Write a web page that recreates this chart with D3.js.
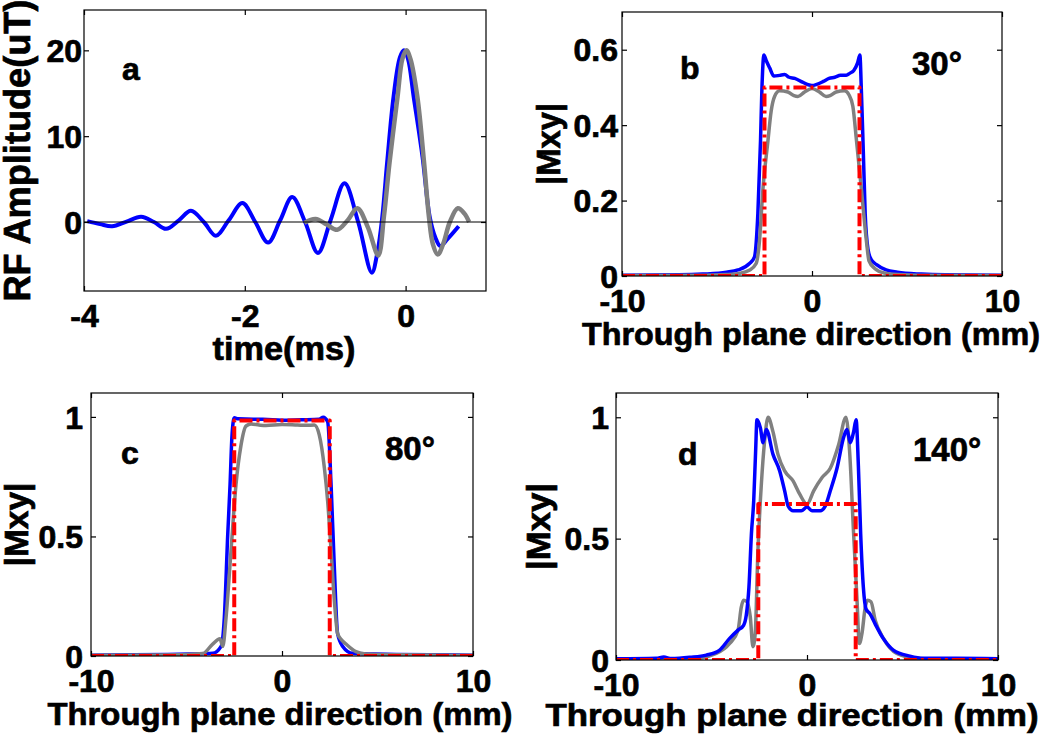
<!DOCTYPE html>
<html><head><meta charset="utf-8">
<script src="https://cdn.jsdelivr.net/npm/d3@7"></script>
<style>
body{margin:0;background:#fff}
svg{display:block;background:#fff}
text{font-family:"Liberation Sans",Arial,sans-serif;font-weight:bold;fill:#000;stroke:#000;stroke-width:0.7px}
</style>
</head><body>
<svg id="chart" width="1050" height="736"></svg>
<script>
// ---------- data ----------
// panel a: RF pulse, time (ms) vs amplitude (uT)
const rfBlue = [[-3.96,0.1],[-3.8,-0.25],[-3.65,-0.5],[-3.47,0.05],[-3.29,0.6],[-3.13,0],[-2.98,-0.8],[-2.82,0.2],[-2.67,1.3],[-2.51,0],[-2.36,-1.6],[-2.2,0.2],[-2.03,2.2],[-1.87,0],[-1.71,-2.4],[-1.56,0.2],[-1.41,2.9],[-1.25,0],[-1.09,-3.6],[-0.93,0.3],[-0.76,4.5],[-0.59,0],[-0.42,-5.9],[-0.35,-3.5],[-0.29,0.6],[-0.23,6.9],[-0.15,14.6],[-0.07,19.2],[-0.02,20],[0.03,19],[0.1,14.6],[0.21,7.6],[0.3,0.6],[0.37,-1.8],[0.43,-2.8],[0.52,-2.0],[0.66,-0.5]];
const rfGray = [[-1.26,-0.1],[-1.12,0.35],[-0.98,-0.3],[-0.85,-0.9],[-0.72,0.2],[-0.6,1.6],[-0.47,-0.6],[-0.34,-3.9],[-0.27,0.6],[-0.2,6.9],[-0.1,14.6],[-0.04,19],[0.01,20],[0.06,19],[0.146,14.6],[0.23,6.9],[0.29,0.6],[0.34,-2.6],[0.40,-3.8],[0.47,-2.5],[0.55,0],[0.65,1.6],[0.73,1.0],[0.79,0]];

// panel b: 30 deg profiles, position (mm) vs |Mxy|
const b30Blue = [[-10,0.002],[-7,0.003],[-5.75,0.005],[-4.5,0.01],[-3.9,0.016],[-3.29,0.033],[-3.03,0.05],[-2.85,0.165],[-2.71,0.358],[-2.64,0.49],[-2.53,0.586],[-2.4,0.57],[-2.23,0.552],[-2.0,0.53],[-1.7,0.532],[-1.44,0.534],[-1.2,0.527],[-0.91,0.524],[-0.5,0.514],[-0.2,0.507],[0,0.505],[0.25,0.508],[0.6,0.516],[0.9,0.524],[1.2,0.527],[1.5,0.532],[1.8,0.532],[2.0,0.538],[2.2,0.545],[2.4,0.565],[2.52,0.586],[2.6,0.49],[2.7,0.33],[2.8,0.165],[2.95,0.07],[3.1,0.045],[3.4,0.03],[3.9,0.016],[4.5,0.01],[5.75,0.005],[7,0.003],[10,0.002]];
const b30Gray = [[-10,0.001],[-6,0.002],[-4.5,0.004],[-3.8,0.007],[-3.3,0.015],[-2.94,0.033],[-2.76,0.095],[-2.59,0.226],[-2.32,0.358],[-2.15,0.437],[-1.97,0.476],[-1.71,0.491],[-1.27,0.488],[-0.95,0.478],[-0.74,0.476],[-0.39,0.488],[0,0.497],[0.39,0.488],[0.74,0.476],[0.95,0.478],[1.27,0.488],[1.71,0.491],[1.95,0.48],[2.15,0.45],[2.34,0.36],[2.6,0.23],[2.87,0.09],[3.0,0.04],[3.3,0.02],[3.8,0.008],[4.5,0.004],[6,0.002],[10,0.001]];
const b30Ideal = [[-10,0],[-2.5,0],[-2.5,0.5],[2.5,0.5],[2.5,0],[10,0]];

// panel c: 80 deg
const c80Blue = [[-10,0.003],[-8,0.005],[-6,0.006],[-4.85,0.008],[-3.63,0.011],[-3.19,0.04],[-3.02,0.16],[-2.84,0.51],[-2.72,0.716],[-2.62,0.92],[-2.5,0.996],[-2.3,0.992],[-1.5,0.99],[-1.0,0.99],[0,0.986],[1.0,0.988],[1.95,0.99],[2.16,0.999],[2.39,0.98],[2.57,0.716],[2.74,0.37],[2.91,0.094],[3.18,0.04],[3.7,0.011],[4.85,0.008],[6,0.006],[8,0.005],[10,0.003]];
const c80Gray = [[-10,0.003],[-7,0.004],[-5,0.006],[-4.15,0.01],[-3.63,0.05],[-3.25,0.072],[-3.1,0.04],[-2.93,0.16],[-2.67,0.44],[-2.41,0.716],[-2.15,0.88],[-1.88,0.962],[-1.62,0.97],[-1.2,0.966],[-0.84,0.964],[0,0.968],[0.82,0.966],[1.3,0.965],[1.69,0.966],[1.95,0.925],[2.22,0.786],[2.39,0.648],[2.57,0.44],[2.74,0.232],[2.91,0.094],[3.09,0.07],[3.35,0.05],[3.87,0.018],[4.4,0.008],[6,0.005],[8,0.004],[10,0.003]];
const c80Ideal = [[-10,0],[-2.5,0],[-2.5,0.985],[2.5,0.985],[2.5,0],[10,0]];

// panel d: 140 deg
const d140Blue = [[-10,0.005],[-7.89,0.007],[-7.5,0.012],[-7.1,0.006],[-6.14,0.011],[-5.27,0.02],[-4.57,0.041],[-4.05,0.089],[-3.61,0.123],[-3.32,0.143],[-3.18,0.184],[-3.04,0.3],[-2.91,0.52],[-2.79,0.656],[-2.69,0.86],[-2.62,0.99],[-2.44,0.956],[-2.3,0.895],[-2.13,0.95],[-1.78,0.847],[-1.43,0.779],[-1.17,0.697],[-0.99,0.635],[-0.73,0.615],[-0.3,0.615],[0,0.63],[0.26,0.615],[0.7,0.615],[0.96,0.635],[1.22,0.697],[1.57,0.79],[1.92,0.918],[2.09,0.95],[2.27,0.895],[2.44,0.94],[2.57,0.99],[2.69,0.8],[2.81,0.52],[2.95,0.3],[3.09,0.21],[3.3,0.19],[3.56,0.15],[3.99,0.089],[4.52,0.041],[5.39,0.016],[6.09,0.007],[7.8,0.007],[10,0.005]];
const d140Gray = [[-10,0.002],[-6.14,0.003],[-4.75,0.027],[-4.05,0.068],[-3.61,0.123],[-3.44,0.218],[-3.32,0.246],[-3.14,0.24],[-2.97,0.178],[-2.83,0.055],[-2.71,0.11],[-2.57,0.45],[-2.39,0.724],[-2.22,0.902],[-2.04,1.0],[-1.78,0.94],[-1.52,0.847],[-1.17,0.779],[-0.73,0.738],[-0.38,0.683],[0,0.642],[0.35,0.697],[0.79,0.752],[1.22,0.79],[1.66,0.888],[2.04,1.0],[2.23,0.86],[2.44,0.52],[2.62,0.246],[2.74,0.068],[2.88,0.11],[3.05,0.218],[3.17,0.246],[3.35,0.24],[3.57,0.164],[4.0,0.089],[4.7,0.027],[5.75,0.007],[6.97,0.003],[10,0.002]];
const d140Ideal = [[-10,0],[-2.55,0],[-2.55,0.643],[2.55,0.643],[2.55,0],[10,0]];

// ticks and labels
const aTicksX = [-4,-2,0], aTickLabelsX = ["-4","-2","0"];
const aTicksY = [0,10,20], aTickLabelsY = ["0","10","20"];
const mmTicks = [-10,0,10], mmTickLabels = ["-10","0","10"];
const bTicksY = [0,0.2,0.4,0.6], bTickLabelsY = ["0","0.2","0.4","0.6"];
const cdTicksY = [0,0.5,1], cdTickLabelsY = ["0","0.5","1"];
const panelLetters = ["a","b","c","d"];
const flipAngles = ["30°","80°","140°"];

// ---------- drawing ----------
const svg = d3.select("#chart");
const BLUE="#0000ff", GRAY="#808080", RED="#ff0000";
let clipId = 0;

function panel(cfg){
  const x = d3.scaleLinear().domain(cfg.xd).range([cfg.l, cfg.r]);
  const y = d3.scaleLinear().domain(cfg.yd).range([cfg.b, cfg.t]);
  const g = svg.append("g");
  const id = "clip"+(clipId++);
  g.append("clipPath").attr("id", id).append("rect")
    .attr("x", cfg.l).attr("y", cfg.t-2).attr("width", cfg.r-cfg.l).attr("height", cfg.b-cfg.t+2);
  const plot = g.append("g").attr("clip-path", `url(#${id})`);
  cfg.series.forEach(s=>{
    const line = d3.line().x(d=>x(d[0])).y(d=>y(d[1])).curve(s.curve || d3.curveLinear);
    plot.append("path").datum(s.data).attr("d", line)
      .attr("fill","none").attr("stroke", s.color).attr("stroke-width", s.w)
      .attr("stroke-linejoin","round").attr("stroke-linecap","butt")
      .attr("stroke-dasharray", s.dash || null);
  });
  if (cfg.zeroLine){
    plot.append("line").attr("x1",cfg.l).attr("x2",cfg.r).attr("y1",y(0)).attr("y2",y(0))
      .attr("stroke","#000").attr("stroke-width",1.2);
  }
  // box
  g.append("rect").attr("x",cfg.l).attr("y",cfg.t).attr("width",cfg.r-cfg.l).attr("height",cfg.b-cfg.t)
    .attr("fill","none").attr("stroke","#000").attr("stroke-width",1.2);
  // axes with inward ticks on all sides
  const fx = d=>cfg.xl[cfg.xt.indexOf(d)];
  const fy = d=>cfg.yl[cfg.yt.indexOf(d)];
  const axB = g.append("g").attr("transform",`translate(0,${cfg.b})`)
    .call(d3.axisBottom(x).tickValues(cfg.xt).tickSize(-5).tickPadding(13).tickFormat(fx));
  const axT = g.append("g").attr("transform",`translate(0,${cfg.t})`)
    .call(d3.axisTop(x).tickValues(cfg.xt).tickSize(-5).tickFormat(""));
  const axL = g.append("g").attr("transform",`translate(${cfg.l},0)`)
    .call(d3.axisLeft(y).tickValues(cfg.yt).tickSize(-5).tickPadding(cfg.ypad).tickFormat(fy));
  const axR = g.append("g").attr("transform",`translate(${cfg.r},0)`)
    .call(d3.axisRight(y).tickValues(cfg.yt).tickSize(-5).tickFormat(""));
  [axB,axT,axL,axR].forEach(a=>{
    a.select(".domain").remove();
    a.selectAll("line").attr("stroke","#000").attr("stroke-width",1.2);
    a.attr("font-family",null).attr("font-size",null);
    a.selectAll("text").attr("font-size",32).attr("font-family",'"Liberation Sans",Arial,sans-serif')
      .attr("font-weight","bold").attr("fill","#000");
  });
  axL.selectAll("text").attr("dy","0.35em");
  // x label
  g.append("text").attr("x",cfg.xlab.x).attr("y",cfg.xlab.y).attr("text-anchor","middle")
    .attr("font-size",cfg.xlab.size).attr("textLength",cfg.xlab.len).attr("lengthAdjust","spacingAndGlyphs")
    .text(cfg.xlab.text);
  // y label
  g.append("text").attr("transform",`translate(${cfg.ylab.x},${(cfg.t+cfg.b)/2}) rotate(-90)`)
    .attr("text-anchor","middle").attr("font-size",cfg.ylab.size)
    .attr("textLength",cfg.ylab.len).attr("lengthAdjust","spacingAndGlyphs")
    .text(cfg.ylab.text);
  // annotations
  cfg.notes.forEach(n=>{
    g.append("text").attr("x",n.x).attr("y",n.y).attr("font-size",n.size||32).text(n.text);
  });
}

const lineCurve = d3.curveMonotoneX;
const xlabText = "Through plane direction (mm)";

panel({
  l:84, r:486, t:10, b:291, xd:[-4,1], yd:[-8.04,24.7],
  xt:aTicksX, xl:aTickLabelsX, yt:aTicksY, yl:aTickLabelsY, ypad:2,
  series:[
    {data:rfBlue, color:BLUE, w:4, curve:d3.curveCatmullRom.alpha(0.5)},
    {data:rfGray, color:GRAY, w:4.5, curve:d3.curveCatmullRom.alpha(0.5)}
  ],
  zeroLine:true,
  xlab:{text:"time(ms)", x:284, y:360, size:34, len:143},
  ylab:{text:"RF Amplitude(uT)", x:30, size:36, len:302},
  notes:[{text:panelLetters[0], x:122, y:80}]
});

panel({
  l:622, r:1002, t:12, b:276, xd:[-10,10], yd:[0,0.7],
  xt:mmTicks, xl:mmTickLabels, yt:bTicksY, yl:bTickLabelsY, ypad:4,
  series:[
    {data:b30Blue, color:BLUE, w:3.5, curve:lineCurve},
    {data:b30Gray, color:GRAY, w:3.5, curve:lineCurve},
    {data:b30Ideal, color:RED, w:4, dash:"13,4,3,4"}
  ],
  xlab:{text:xlabText, x:811, y:345, size:32, len:458},
  ylab:{text:"|Mxy|", x:560, size:33, len:82},
  notes:[{text:panelLetters[1], x:680, y:79},{text:flipAngles[0], x:912, y:75, size:33}]
});

panel({
  l:91, r:473, t:393, b:656, xd:[-10,10], yd:[0,1.1],
  xt:mmTicks, xl:mmTickLabels, yt:cdTicksY, yl:cdTickLabelsY, ypad:8,
  series:[
    {data:c80Blue, color:BLUE, w:3.5, curve:lineCurve},
    {data:c80Gray, color:GRAY, w:3.5, curve:lineCurve},
    {data:c80Ideal, color:RED, w:4, dash:"13,4,3,4"}
  ],
  xlab:{text:xlabText, x:280, y:725, size:32, len:465},
  ylab:{text:"|Mxy|", x:28, size:33, len:84},
  notes:[{text:panelLetters[2], x:121, y:464},{text:flipAngles[1], x:385, y:460, size:33}]
});

panel({
  l:616, r:998, t:393, b:660, xd:[-10,10], yd:[0,1.1],
  xt:mmTicks, xl:mmTickLabels, yt:cdTicksY, yl:cdTickLabelsY, ypad:7,
  series:[
    {data:d140Gray, color:GRAY, w:3.5, curve:lineCurve},
    {data:d140Blue, color:BLUE, w:3.5, curve:lineCurve},
    {data:d140Ideal, color:RED, w:4, dash:"13,4,3,4"}
  ],
  xlab:{text:xlabText, x:792, y:726, size:32, len:493},
  ylab:{text:"|Mxy|", x:550, size:33, len:87},
  notes:[{text:panelLetters[3], x:678, y:465},{text:flipAngles[2], x:913, y:461, size:33}]
});
</script>
</body></html>
